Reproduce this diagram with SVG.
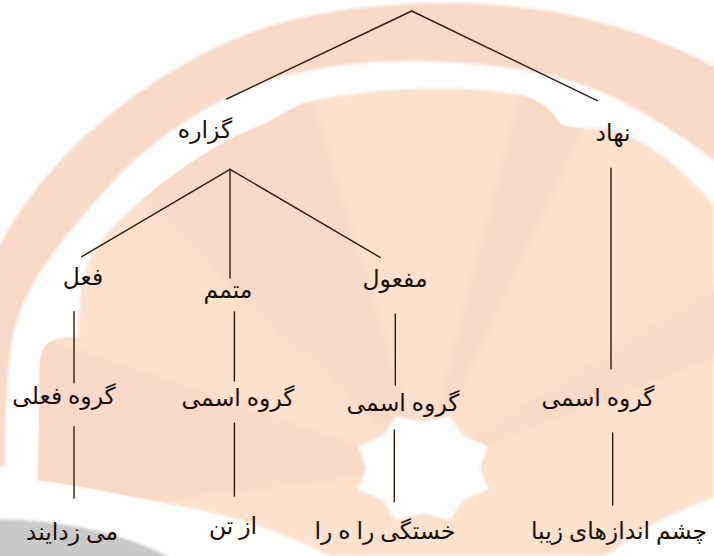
<svg xmlns="http://www.w3.org/2000/svg" width="714" height="556" viewBox="0 0 714 556">
  <defs>
    <style>
      .lbl { font-family: "Liberation Serif", "DejaVu Sans", serif; font-size: 23.5px; fill: #1a0f08; text-anchor: middle; }
      .edge { stroke: #2e1a0e; stroke-width: 1.4; fill: none; stroke-linecap: round; }
      .band { fill: #f9d9c8; }
      .peach { fill: #fce1cc; }
      .salmon { fill: #f9d9c7; }
    </style>
    <filter id="soft" x="-5%" y="-5%" width="110%" height="110%">
      <feGaussianBlur stdDeviation="1.5"/>
    </filter>
    <filter id="softer" x="-20%" y="-20%" width="140%" height="140%">
      <feGaussianBlur stdDeviation="4"/>
    </filter>
    <clipPath id="inner">
      <path d="M 38,480 L 40,362 Q 42,340 62,338 L 78,336 L 80,300 C 82,270 95,245 115,225 C 145,195 200,150 255,128 C 280,118 290,108 305,103 C 350,90 450,82 520,95 C 540,100 552,110 560,124 C 575,130 590,128 605,128 C 640,135 680,165 714,205 L 714,497 C 680,510 655,522 640,532 C 622,545 608,556 600,556 L 330,556 C 300,540 250,520 200,510 C 150,500 80,485 38,480 Z"/>
    </clipPath>
  </defs>

  <g id="background">
    <rect x="0" y="0" width="714" height="556" fill="#ffffff"/>
    <g filter="url(#soft)">
      <path class="band" d="M -60,480 C -60,380 -30,280 28,200 C 90,115 200,40 300,18 C 380,0 480,-2 560,13 C 620,25 680,45 740,80 L 740,175 L 714,160 C 660,120 610,90 560,78 C 480,58 380,55 300,72 C 230,88 160,130 110,185 C 60,240 20,290 12,340 C 5,390 5,440 5,465 L -60,480 Z"/>
      <path class="peach" d="M 38,480 L 40,362 Q 42,340 62,338 L 78,336 L 80,300 C 82,270 95,245 115,225 C 145,195 200,150 255,128 C 280,118 290,108 305,103 C 350,90 450,82 520,95 C 540,100 552,110 560,124 C 575,130 590,128 605,128 C 640,135 680,165 714,205 L 714,497 C 680,510 655,522 640,532 C 622,545 608,556 600,556 L 330,556 C 300,540 250,520 200,510 C 150,500 80,485 38,480 Z"/>
    </g>
    <g clip-path="url(#inner)">
      <g filter="url(#softer)">
        <polygon class="salmon" points="423,468 130,190 300,60"/>
        <polygon class="salmon" points="423,468 20,330 0,520"/>
        <polygon class="salmon" points="423,468 530,60 600,90"/>
        <polygon class="salmon" points="423,468 760,260 760,340"/>
      </g>
    </g>
    <polygon fill="#ffffff" filter="url(#soft)" transform="translate(423,468) scale(1,0.8)" points="57,0 64.67,26.79 40.3,40.3 26.79,64.67 0,57 -26.79,64.67 -40.3,40.3 -64.67,26.79 -57,0 -64.67,-26.79 -40.3,-40.3 -26.79,-64.67 0,-57 26.79,-64.67 40.3,-40.3 64.67,-26.79"/>
    <path fill="#c9c9c9" filter="url(#soft)" d="M -5,519 C 60,521 120,530 174,560 L -5,560 Z"/>
  </g>

  <g id="connectors">
    <line class="edge" x1="411.7" y1="11" x2="226.7" y2="99"/>
    <line class="edge" x1="411.7" y1="11" x2="597.3" y2="100.7"/>
    <line class="edge" x1="230" y1="169.3" x2="81.7" y2="256.7"/>
    <line class="edge" x1="230" y1="169.3" x2="230" y2="278"/>
    <line class="edge" x1="230" y1="169.3" x2="380" y2="257.3"/>
    <line class="edge" x1="611" y1="168.3" x2="611" y2="369"/>
    <line class="edge" x1="74" y1="311.7" x2="74" y2="382.7"/>
    <line class="edge" x1="74" y1="426.7" x2="74" y2="498.3"/>
    <line class="edge" x1="234.4" y1="312" x2="234.4" y2="381"/>
    <line class="edge" x1="234.4" y1="423" x2="234.4" y2="496"/>
    <line class="edge" x1="395.3" y1="314" x2="395.3" y2="385"/>
    <line class="edge" x1="394.3" y1="430" x2="394.3" y2="501.7"/>
    <line class="edge" x1="612.7" y1="433" x2="612.7" y2="505"/>
  </g>

  <g id="n-gozareh"><text class="lbl" x="205" y="138">گزاره</text></g>
  <g id="n-nahad"><text class="lbl" x="613" y="141">نهاد</text></g>
  <g id="n-feel"><text class="lbl" x="83" y="285">فعل</text></g>
  <g id="n-motammam"><text class="lbl" x="228" y="298">متمم</text></g>
  <g id="n-mafool"><text class="lbl" x="395" y="287">مفعول</text></g>
  <g id="n-goruh-feli"><text class="lbl" x="64" y="404">گروه فعلی</text></g>
  <g id="n-goruh-esmi-1"><text class="lbl" x="238" y="406">گروه اسمی</text></g>
  <g id="n-goruh-esmi-2"><text class="lbl" x="403" y="411">گروه اسمی</text></g>
  <g id="n-goruh-esmi-3"><text class="lbl" x="598" y="406">گروه اسمی</text></g>
  <g id="n-mizodayand"><text class="lbl" x="72" y="540">می زدایند</text></g>
  <g id="n-aztan"><text class="lbl" x="233" y="534">از تن</text></g>
  <g id="n-khastegi"><text class="lbl" x="385" y="539">خستگی را ه را</text></g>
  <g id="n-cheshm"><text class="lbl" x="619" y="539">چشم اندازهای زیبا</text></g>
</svg>
